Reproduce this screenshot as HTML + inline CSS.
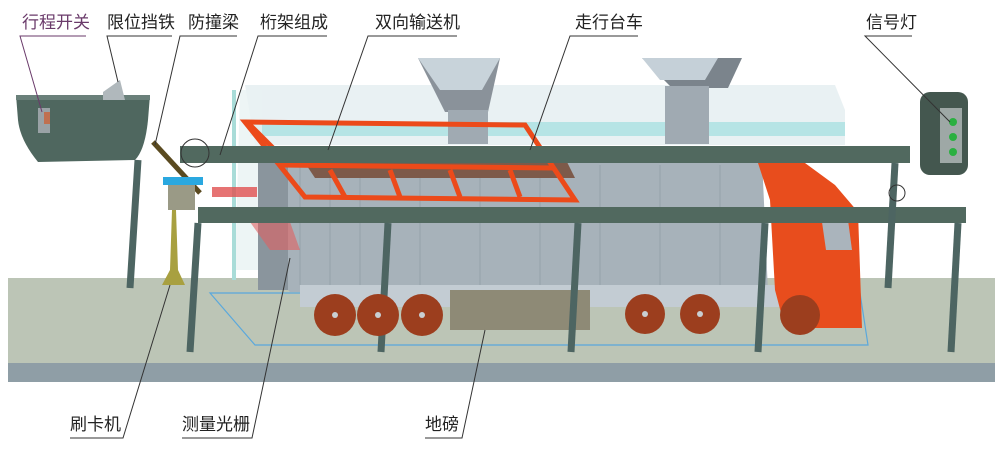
<!DOCTYPE html>
<html><head><meta charset="utf-8"><style>
html,body{margin:0;padding:0;background:#fff;width:1000px;height:453px;overflow:hidden}
svg{display:block}
text{font-family:"Liberation Sans","Noto Sans CJK SC",sans-serif;font-size:17px;fill:#222}
</style></head><body>
<svg width="1000" height="453" viewBox="0 0 1000 453" xmlns="http://www.w3.org/2000/svg">
<!-- ground -->
<rect x="8" y="278" width="987" height="86" fill="#bcc5b6"/>
<rect x="8" y="363" width="987" height="19" fill="#8f9ea6"/>
<polygon points="210,293 860,293 868,345 255,345" fill="none" stroke="#5aa8dc" stroke-width="1.2"/>
<!-- transparent cyan structure -->
<polygon points="245,85 835,85 845,110 845,145 255,145" fill="#e4eef0" opacity="0.8"/>
<rect x="250" y="122" width="595" height="14" fill="#9fdede" opacity="0.7"/>
<polygon points="240,90 262,90 262,270 235,270" fill="#e9f2f2" opacity="0.8"/>
<rect x="232" y="90" width="4" height="190" fill="#a9dcd8"/>
<!-- container -->
<polygon points="258,158 762,158 768,292 290,292 262,260" fill="#a7b2ba"/>
<g stroke="#96a1aa" stroke-width="1">
<line x1="300" y1="165" x2="300" y2="285"/><line x1="330" y1="165" x2="330" y2="285"/><line x1="360" y1="165" x2="360" y2="285"/><line x1="420" y1="165" x2="420" y2="285"/><line x1="480" y1="165" x2="480" y2="285"/><line x1="540" y1="165" x2="540" y2="285"/><line x1="600" y1="165" x2="600" y2="285"/><line x1="660" y1="165" x2="660" y2="285"/><line x1="720" y1="165" x2="720" y2="285"/>
</g>
<rect x="258" y="160" width="30" height="130" fill="#8a959d"/>
<!-- chassis -->
<rect x="300" y="285" width="480" height="22" fill="#c3ccd3"/>
<rect x="450" y="290" width="140" height="40" fill="#8e8a76"/>
<!-- truck cab -->
<polygon points="758,163 805,163 835,185 858,212 862,328 785,328 775,290 770,200" fill="#e84d1d"/>
<polygon points="822,222 848,220 852,250 826,250" fill="#aab4bc"/>
<!-- hoppers -->
<polygon points="418,58 500,58 488,112 445,112" fill="#8a929a"/>
<polygon points="418,58 500,58 482,90 440,90" fill="#c8d3da"/>
<rect x="448" y="110" width="40" height="34" fill="#a0aab2"/>
<polygon points="642,58 742,58 728,88 672,88" fill="#7b848c"/>
<polygon points="642,58 718,58 705,80 660,80" fill="#c5d0d8"/>
<rect x="665" y="86" width="44" height="58" fill="#a0aab2"/>
<!-- conveyor -->
<polygon points="295,148 560,148 575,178 315,178" fill="#7d5a4a"/>
<!-- orange frame -->
<g fill="none" stroke="#ec4a1a" stroke-width="5">
<polygon points="245,122 525,125 575,200 305,197"/>
<line x1="280" y1="165" x2="555" y2="168"/>
<line x1="330" y1="170" x2="345" y2="197"/><line x1="390" y1="170" x2="400" y2="197"/><line x1="450" y1="170" x2="460" y2="197"/><line x1="510" y1="170" x2="520" y2="197"/>
<line x1="250" y1="125" x2="290" y2="165"/>
</g>
<!-- red grating -->
<rect x="212" y="187" width="45" height="10" fill="#e05050" opacity="0.8"/>
<polygon points="250,222 290,222 300,250 270,250" fill="#e06060" opacity="0.6"/>
<!-- upper beam -->
<rect x="180" y="146" width="730" height="17" fill="#51695f"/>
<!-- lower beam -->
<rect x="198" y="207" width="768" height="16" fill="#51695f"/>
<!-- pillars -->
<g stroke="#4d6562" stroke-width="7" stroke-linecap="butt">
<line x1="138" y1="160" x2="130" y2="288"/>
<line x1="198" y1="223" x2="190" y2="352"/>
<line x1="388" y1="223" x2="381" y2="352"/>
<line x1="578" y1="223" x2="571" y2="352"/>
<line x1="765" y1="223" x2="758" y2="352"/>
<line x1="895" y1="163" x2="888" y2="288"/>
<line x1="958" y1="223" x2="951" y2="352"/>
</g>
<!-- wheels -->
<g fill="#9c3e1e">
<circle cx="335" cy="315" r="21"/><circle cx="378" cy="315" r="21"/><circle cx="422" cy="315" r="21"/>
<circle cx="645" cy="314" r="20"/><circle cx="700" cy="314" r="20"/><circle cx="800" cy="315" r="20"/>
</g>
<g fill="#c9cfd3"><circle cx="335" cy="315" r="3"/><circle cx="378" cy="315" r="3"/><circle cx="422" cy="315" r="3"/><circle cx="645" cy="314" r="3"/><circle cx="700" cy="314" r="3"/></g>
<!-- anti-collision beam and card reader -->
<line x1="153" y1="142" x2="200" y2="193" stroke="#5a4a20" stroke-width="5"/>
<rect x="163" y="177" width="40" height="8" fill="#2aa8e0"/>
<rect x="168" y="185" width="27" height="25" fill="#9a9a86"/>
<polygon points="172,210 176,210 178,270 185,285 162,285 170,270" fill="#a8a040"/>
<circle cx="195" cy="153" r="14" fill="none" stroke="#333" stroke-width="1"/>
<circle cx="897" cy="193" r="8" fill="none" stroke="#333" stroke-width="1"/>
<!-- inset rail -->
<path d="M16,95 L150,95 L148,120 Q145,150 135,160 L38,162 Q20,140 18,120 Z" fill="#4f675f"/>
<rect x="16" y="95" width="134" height="5" fill="#6a807a"/>
<polygon points="103,92 120,80 125,100 103,100" fill="#b0b8bc"/>
<rect x="38" y="108" width="12" height="25" fill="#9aa2a6"/><rect x="44" y="112" width="6" height="12" fill="#c07050"/>
<!-- signal light -->
<rect x="920" y="92" width="48" height="83" rx="10" fill="#44574f"/>
<rect x="940" y="108" width="22" height="55" fill="#9ea8a6"/>
<circle cx="953" cy="122" r="4" fill="#2ab040"/><circle cx="953" cy="137" r="4" fill="#2ab040"/><circle cx="953" cy="152" r="4" fill="#2ab040"/>
<!-- labels -->
<g>
<text x="22" y="28" style="fill:#6a3a6a">行程开关</text>
<text x="107" y="28">限位挡铁</text>
<text x="188" y="28">防撞梁</text>
<text x="260" y="28">桁架组成</text>
<text x="375" y="28">双向输送机</text>
<text x="575" y="28">走行台车</text>
<text x="866" y="28">信号灯</text>
<text x="70" y="430">刷卡机</text>
<text x="182" y="430">测量光栅</text>
<text x="425" y="430">地磅</text>
</g>
<g stroke="#333" stroke-width="1" fill="none">
<polyline points="86,36 20,36 42,112" stroke="#6a3a6a"/>
<polyline points="172,36 107,36 118,82"/>
<polyline points="237,36 180,36 155,145"/>
<polyline points="327,36 258,36 220,155"/>
<polyline points="457,36 368,36 328,150"/>
<polyline points="638,36 570,36 530,150"/>
<polyline points="912,36 865,36 950,122"/>
<polyline points="70,438 123,438 170,285"/>
<polyline points="182,438 252,438 290,258"/>
<polyline points="425,438 462,438 485,330"/>
</g>
</svg>
</body></html>
